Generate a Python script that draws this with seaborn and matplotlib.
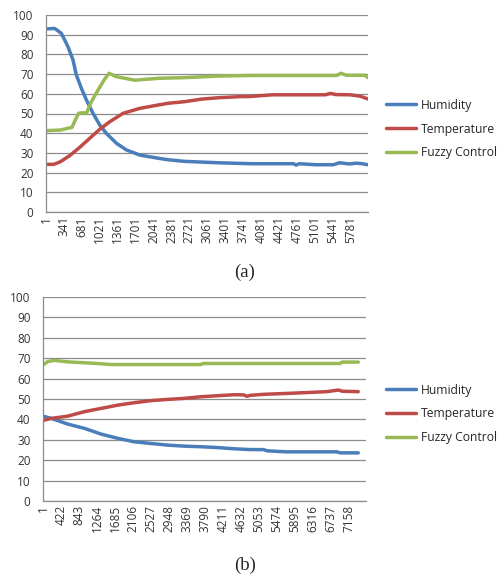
import seaborn as sns
import pandas as pd
import matplotlib
matplotlib.use("Agg")
import matplotlib.pyplot as plt

# chart (a) - sample index and value of each series
a_hum_x = [1, 165, 292, 418, 513, 577, 672, 767, 893, 1020, 1147, 1337, 1527,
           1780, 2127, 2320, 2630, 3270, 3900, 4700, 4746, 4800, 5130, 5450,
           5575, 5750, 5895, 6000, 6107]
a_hum_y = [92.9, 93.2, 90.7, 83.9, 77.2, 69.5, 62.8, 56.9, 50.1, 44.2, 39.9, 34.9,
           31.5, 28.9, 27.3, 26.5, 25.7, 25, 24.5, 24.5, 23.8, 24.5, 24, 24,
           25, 24.4, 24.8, 24.5, 24]
a_tmp_x = [1, 150, 273, 450, 640, 830, 1020, 1210, 1463, 1780, 2127, 2320, 2630,
           2950, 3270, 3720, 3850, 4300, 5300, 5400, 5500, 5770, 5960, 6107]
a_tmp_y = [24.2, 24.2, 25.5, 28.6, 32.8, 37.4, 42, 45.8, 50.1, 52.6, 54.3, 55.2,
           56, 57.3, 58, 58.6, 58.6, 59.5, 59.5, 60.2, 59.6, 59.5, 58.8, 57.4]
a_fuz_x = [1, 273, 494, 557, 620, 716, 767, 862, 988, 1115, 1197, 1337, 1685,
           2160, 2630, 3270, 3900, 5510, 5600, 5700, 6050, 6107]
a_fuz_y = [41.3, 41.6, 43, 46.7, 50.1, 50.4, 50, 56, 61.9, 67.5, 70.4, 68.7, 66.9,
           67.9, 68.2, 69, 69.3, 69.3, 70.4, 69.4, 69.4, 68.2]
a_ticks = [1, 341, 681, 1021, 1361, 1701, 2041, 2381, 2721, 3061, 3401, 3741,
           4081, 4421, 4761, 5101, 5441, 5781]

# chart (b)
b_hum_x = [1, 195, 580, 970, 1360, 1750, 2140, 2525, 2915, 3300, 3690, 4080,
           4470, 4860, 5160, 5240, 5700, 6870, 6950, 7374]
b_hum_y = [41.6, 40.5, 37.7, 35.6, 32.8, 30.7, 29, 28.2, 27.4, 26.9, 26.6, 26.2,
           25.6, 25.2, 25.2, 24.6, 24.1, 24.1, 23.6, 23.6]
b_tmp_x = [1, 195, 580, 970, 1360, 1750, 2140, 2525, 2915, 3300, 3690, 4080,
           4470, 4700, 4770, 4850, 5160, 5780, 6640, 6910, 7000, 7374]
b_tmp_y = [39.5, 40.5, 41.6, 43.8, 45.4, 47, 48.2, 49.2, 49.8, 50.3, 51.1, 51.6,
           52.1, 52, 51.3, 51.8, 52.3, 52.8, 53.6, 54.4, 53.8, 53.6]
b_fuz_x = [1, 115, 270, 580, 1200, 1600, 3690, 3750, 6950, 7000, 7374]
b_fuz_y = [66.7, 68.4, 68.9, 68.2, 67.5, 66.9, 66.9, 67.4, 67.4, 68.1, 68.1]
b_ticks = [1, 422, 843, 1264, 1685, 2106, 2527, 2948, 3369, 3790, 4211, 4632,
           5053, 5474, 5895, 6316, 6737, 7158]

series_names = ["Humidity", "Temperature", "Fuzzy Control"]
colors = ["#4A7EBB", "#BE4B48", "#98B954"]


def make_frame(parts):
    frames = []
    for name, xs, ys in parts:
        frames.append(pd.DataFrame({"Index": xs, "Value": ys, "Series": name}))
    return pd.concat(frames, ignore_index=True)


def draw_panel(fig, rect, data, ticks, xmax, legend_y, caption, caption_y):
    ax = fig.add_axes(rect)
    sns.lineplot(data=data, x="Index", y="Value", hue="Series",
                 hue_order=series_names, palette=colors, linewidth=2.5,
                 ax=ax, sort=False)
    ax.set_xlim(1, xmax)
    ax.set_ylim(0, 100)
    ax.set_yticks(range(0, 101, 10))
    ax.set_xticks(ticks)
    ax.set_xticklabels([str(t) for t in ticks], rotation=90)
    ax.yaxis.grid(True, color="#8C8C8C", linewidth=0.9)
    ax.xaxis.grid(False)
    ax.set_axisbelow(True)
    for side in ["top", "right"]:
        ax.spines[side].set_visible(False)
    for side in ["left", "bottom"]:
        ax.spines[side].set_color("#8C8C8C")
        ax.spines[side].set_linewidth(0.9)
    ax.tick_params(axis="y", length=0, pad=9, labelsize=8.5, labelcolor="#333333")
    ax.tick_params(axis="x", length=0, pad=3, labelsize=8.5, labelcolor="#333333")
    ax.set_xlabel("")
    ax.set_ylabel("")
    handles, labels = ax.get_legend_handles_labels()
    ax.legend(handles, labels, loc="center left",
              bbox_to_anchor=(386 / 499, legend_y), bbox_transform=fig.transFigure,
              frameon=False, fontsize=8.7, handlelength=2.5, handletextpad=0.4,
              labelspacing=0.9, borderpad=0, borderaxespad=0)
    fig.text(245 / 499, caption_y, caption, ha="center", va="center",
             fontsize=13.5, family="Liberation Serif")
    return ax


sns.set_theme(style="white")
plt.rcParams["font.family"] = ["Open Sans", "DejaVu Sans"]

fig = plt.figure(figsize=(4.99, 5.77), dpi=100)

data_a = make_frame([
    ("Humidity", a_hum_x, a_hum_y),
    ("Temperature", a_tmp_x, a_tmp_y),
    ("Fuzzy Control", a_fuz_x, a_fuz_y),
])
data_b = make_frame([
    ("Humidity", b_hum_x, b_hum_y),
    ("Temperature", b_tmp_x, b_tmp_y),
    ("Fuzzy Control", b_fuz_x, b_fuz_y),
])

draw_panel(fig, [46 / 499, 1 - 212 / 577, 322 / 499, 197 / 577],
           data_a, a_ticks, 6110, 1 - 129 / 577, "(a)", 1 - 272 / 577)
draw_panel(fig, [43 / 499, 1 - 501 / 577, 323 / 499, 204 / 577],
           data_b, b_ticks, 7555, 1 - 414 / 577, "(b)", 1 - 565 / 577)

fig.savefig("out.png", dpi=100)
